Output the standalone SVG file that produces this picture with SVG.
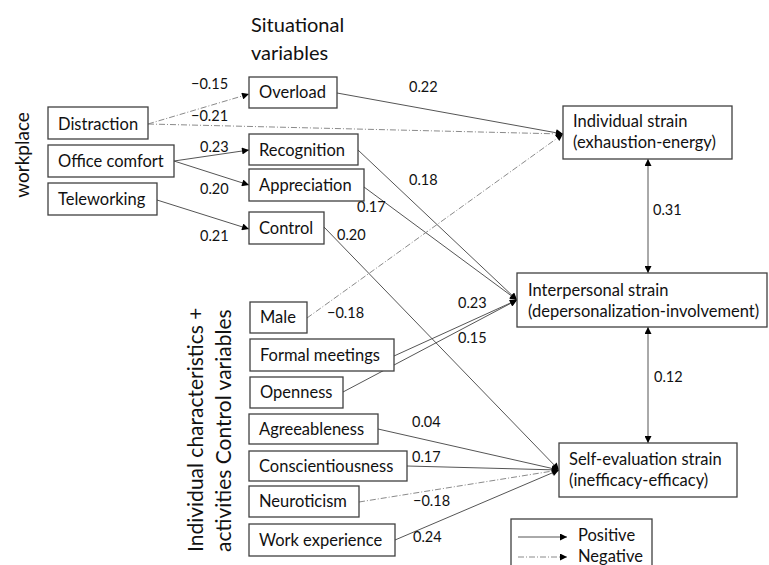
<svg xmlns="http://www.w3.org/2000/svg" width="769" height="565" viewBox="0 0 769 565">
<defs>
<style>
text{font-family:Lato,"Liberation Sans",sans-serif;fill:#111}
.box{fill:#fff;stroke:#404040;stroke-width:1.3}
.bt{font-size:16.5px}
.lb{font-size:14.5px}
.big{font-size:20px}
.wp{font-size:19px}
.side{font-size:21px}
.pos{fill:none;stroke:#555;stroke-width:1}
.neg{fill:none;stroke:#8a8a8a;stroke-width:1;stroke-dasharray:6 2 1 2}
</style>
<marker id="ah" viewBox="0 0 10 10" refX="10" refY="5" markerWidth="8" markerHeight="7" markerUnits="userSpaceOnUse" orient="auto-start-reverse">
<path d="M0,0 L10,5 L0,10 z" fill="#000"/>
</marker>
</defs>
<rect width="769" height="565" fill="#fff"/>

<g id="titles">
<text class="big" x="251" y="32">Situational</text>
<text class="big" x="251" y="60">variables</text>
<text class="wp" transform="translate(29,155) rotate(-90)" text-anchor="middle">workplace</text>
<text class="side" transform="translate(203,552) rotate(-90)">Individual characteristics +</text>
<text class="side" transform="translate(231,552) rotate(-90)">activities Control variables</text>
</g>

<g id="connectors">
<line class="neg" x1="148" y1="124" x2="249" y2="94" marker-end="url(#ah)"/>
<line class="neg" x1="148" y1="124" x2="563" y2="134" marker-end="url(#ah)"/>
<line class="pos" x1="174" y1="161" x2="249" y2="150" marker-end="url(#ah)"/>
<line class="pos" x1="174" y1="161" x2="249" y2="185" marker-end="url(#ah)"/>
<line class="pos" x1="157" y1="200" x2="249" y2="229" marker-end="url(#ah)"/>
<line class="pos" x1="337" y1="93" x2="563" y2="134" marker-end="url(#ah)"/>
<line class="pos" x1="358" y1="150" x2="517" y2="300" marker-end="url(#ah)"/>
<line class="pos" x1="364" y1="187" x2="517" y2="300" marker-end="url(#ah)"/>
<line class="pos" x1="324" y1="227" x2="559" y2="470" marker-end="url(#ah)"/>
<line class="neg" x1="307" y1="318" x2="563" y2="134" marker-end="url(#ah)"/>
<line class="pos" x1="394" y1="356" x2="517" y2="300" marker-end="url(#ah)"/>
<line class="pos" x1="343" y1="392" x2="517" y2="300" marker-end="url(#ah)"/>
<line class="pos" x1="378" y1="429" x2="559" y2="470" marker-end="url(#ah)"/>
<line class="pos" x1="407" y1="466" x2="559" y2="470" marker-end="url(#ah)"/>
<line class="neg" x1="359" y1="502" x2="559" y2="470" marker-end="url(#ah)"/>
<line class="pos" x1="395" y1="540" x2="559" y2="470" marker-end="url(#ah)"/>
<line class="pos" x1="648" y1="159" x2="648" y2="273" marker-start="url(#ah)" marker-end="url(#ah)"/>
<line class="pos" x1="648" y1="327" x2="648" y2="443" marker-start="url(#ah)" marker-end="url(#ah)"/>
</g>

<g id="labels">
<text class="lb" x="191" y="89">−0.15</text>
<text class="lb" x="191" y="121">−0.21</text>
<text class="lb" x="200" y="152">0.23</text>
<text class="lb" x="200" y="194">0.20</text>
<text class="lb" x="200" y="241">0.21</text>
<text class="lb" x="337" y="240">0.20</text>
<text class="lb" x="409" y="92">0.22</text>
<text class="lb" x="409" y="185">0.18</text>
<text class="lb" x="357" y="212">0.17</text>
<text class="lb" x="653" y="215">0.31</text>
<text class="lb" x="327" y="318">−0.18</text>
<text class="lb" x="458" y="308">0.23</text>
<text class="lb" x="458" y="343">0.15</text>
<text class="lb" x="654" y="382">0.12</text>
<text class="lb" x="412" y="427">0.04</text>
<text class="lb" x="412" y="462">0.17</text>
<text class="lb" x="413" y="506">−0.18</text>
<text class="lb" x="413" y="542">0.24</text>
</g>

<g id="distraction"><rect class="box" x="48" y="107" width="100" height="32"/><text class="bt" x="58" y="130">Distraction</text></g>
<g id="office-comfort"><rect class="box" x="48" y="145" width="126" height="32"/><text class="bt" x="58" y="167">Office comfort</text></g>
<g id="teleworking"><rect class="box" x="48" y="183" width="109" height="32"/><text class="bt" x="58" y="205">Teleworking</text></g>

<g id="overload"><rect class="box" x="249" y="77" width="88" height="31"/><text class="bt" x="259" y="98">Overload</text></g>
<g id="recognition"><rect class="box" x="249" y="134" width="109" height="31"/><text class="bt" x="259" y="156">Recognition</text></g>
<g id="appreciation"><rect class="box" x="249" y="169" width="115" height="32"/><text class="bt" x="259" y="191">Appreciation</text></g>
<g id="control"><rect class="box" x="249" y="212" width="75" height="32"/><text class="bt" x="259" y="234">Control</text></g>

<g id="male"><rect class="box" x="250" y="302" width="57" height="31"/><text class="bt" x="260" y="323">Male</text></g>
<g id="formal-meetings"><rect class="box" x="250" y="339" width="144" height="32"/><text class="bt" x="260" y="361">Formal meetings</text></g>
<g id="openness"><rect class="box" x="250" y="377" width="93" height="31"/><text class="bt" x="260" y="398">Openness</text></g>
<g id="agreeableness"><rect class="box" x="249" y="414" width="129" height="30"/><text class="bt" x="259" y="435">Agreeableness</text></g>
<g id="conscientiousness"><rect class="box" x="249" y="451" width="158" height="30"/><text class="bt" x="259" y="472">Conscientiousness</text></g>
<g id="neuroticism"><rect class="box" x="249" y="486" width="110" height="31"/><text class="bt" x="259" y="507">Neuroticism</text></g>
<g id="work-experience"><rect class="box" x="249" y="524" width="146" height="32"/><text class="bt" x="259" y="546">Work experience</text></g>

<g id="individual-strain"><rect class="box" x="563" y="106" width="169" height="53"/><text class="bt" x="573" y="127">Individual strain</text><text class="bt" x="573" y="148">(exhaustion-energy)</text></g>
<g id="interpersonal-strain"><rect class="box" x="517" y="273" width="250" height="54"/><text class="bt" x="528" y="296">Interpersonal strain</text><text class="bt" x="528" y="317">(depersonalization-involvement)</text></g>
<g id="self-evaluation-strain"><rect class="box" x="559" y="443" width="178" height="54"/><text class="bt" x="569" y="465">Self-evaluation strain</text><text class="bt" x="569" y="486">(inefficacy-efficacy)</text></g>

<g id="legend">
<rect class="box" x="511" y="519" width="141" height="60"/>
<line class="pos" x1="518" y1="537" x2="567" y2="537" marker-end="url(#ah)"/>
<line class="neg" x1="518" y1="557" x2="567" y2="557" marker-end="url(#ah)"/>
<text class="bt" x="578" y="541">Positive</text>
<text class="bt" x="578" y="562">Negative</text>
</g>
</svg>
